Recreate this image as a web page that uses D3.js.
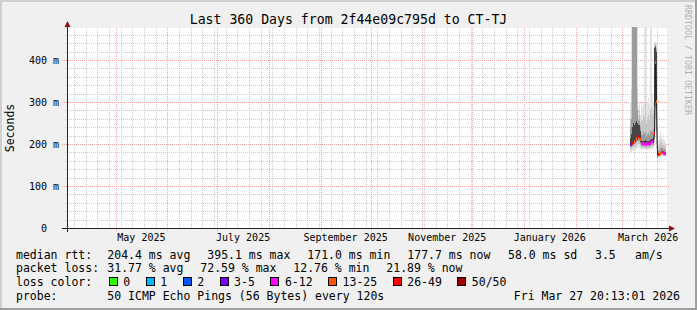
<!DOCTYPE html>
<html>
<head>
<script src="https://cdnjs.cloudflare.com/ajax/libs/d3/7.8.5/d3.min.js"></script>
<style>
body { margin: 0; background: #f0f0f0; }
svg text { font-family: "DejaVu Sans Mono", monospace; fill: #000; }
</style>
</head>
<body>
<script>
// time range of the graph
var startTime = new Date(2025, 3, 1, 20, 13, 1);
var endTime = new Date(2026, 2, 27, 20, 13, 1);
// rrd samples: first sample time and step (minutes)
var firstSample = new Date(2026, 2, 5, 15, 25, 0);
var stepMinutes = 864;

// median rtt (ms) and packet loss (%) per sample
var medianMs = [198, 199, 202, 204, 207, 208, 212, 214, 217, 219, 210,
  202, 201, 202, 200, 202, 200, 201, 202, 200, 202, 204, 205, 206,
  225, 395, 302,
  171, 174, 176, 177, 181, 180, 178.6, 177.4, 177.7];
var lossPct = [4, 30, 35, 40, 20, 35, 20, 30, 40, 30, 20,
  20, 10, 10, 10, 10, 10, 10, 10, 10, 10, 20, 10, 35,
  35, 20, 20,
  20, 35, 10, 20, 20, 35, 10, 10, 10];

// smoke: spread of the 50 pings per sample (ms)
var pingMin = [182, 181, 183, 185, 186, 186, 189, 190, 192, 190, 187,
  185, 186, 187, 186, 187, 185, 186, 187, 186, 188, 189, 188, 190,
  200, 230, 190,
  166, 168, 169, 170, 171, 171, 170, 170, 170];
var ping10 = [188, 187, 190, 192, 194, 194, 197, 199, 201, 200, 195,
  190, 190, 191, 190, 191, 189, 190, 191, 190, 192, 193, 193, 195,
  205, 260, 200,
  168, 170, 171, 172, 173, 173, 172, 172, 172];
var ping25 = [192, 192, 195, 197, 200, 201, 204, 206, 208, 208, 201,
  195, 195, 196, 195, 196, 194, 195, 196, 195, 197, 198, 198, 200,
  215, 285, 230,
  169, 171, 173, 174, 176, 176, 175, 174, 174];
var ping40 = [196, 197, 200, 202, 205, 206, 210, 212, 215, 216, 207,
  199, 199, 200, 198, 200, 198, 199, 200, 198, 200, 202, 203, 204,
  290, 300, 290,
  170, 173, 175, 176, 179, 178, 177, 176, 176];
var ping60 = [215, 225, 240, 250, 245, 250, 255, 250, 245, 245, 230,
  208, 207, 208, 206, 209, 206, 207, 208, 206, 209, 211, 212, 214,
  428, 430, 420,
  174, 177, 179, 180, 184, 183, 181, 180, 180];
var ping75 = [240, 260, 500, 500, 500, 500, 500, 280, 255, 260, 240,
  225, 222, 230, 225, 228, 220, 224, 226, 222, 230, 232, 228, 235,
  432, 435, 425,
  180, 183, 186, 190, 192, 190, 188, 187, 186];
var ping90 = [260, 330, 600, 600, 600, 600, 600, 330, 270, 280, 250,
  260, 255, 270, 265, 300, 250, 262, 270, 260, 280, 285, 270, 280,
  435, 440, 430,
  190, 195, 200, 210, 205, 203, 198, 197, 195];
var pingMax = [300, 600, 600, 600, 600, 600, 600, 600, 290, 300, 270,
  300, 290, 300, 600, 600, 280, 300, 310, 295, 600, 600, 320, 300,
  440, 445, 440,
  200, 210, 215, 230, 220, 215, 212, 210, 205];

// loss colour legend
var lossLimits = [0, 1, 2, 5, 12, 25, 49, 100];
var lossLabels = ["0", "1", "2", "3-5", "6-12", "13-25", "26-49", "50/50"];
var lossColors = ["#26ff00", "#00b8ff", "#0059ff", "#7e00ff", "#ff00ff", "#ff5500", "#ff0000", "#a10000"];

var yTicks = [0, 100, 200, 300, 400];
var yMax = 476.2;

var W = 697, H = 310;
var plotL = 67, plotR = 667, plotT = 28, plotB = 228;

var svg = d3.select("body").append("svg")
  .attr("width", W).attr("height", H);

// background + shading border
svg.append("rect").attr("width", W).attr("height", H).attr("fill", "#f0f0f0");
svg.append("path").attr("d", "M0,0H" + W + "V2H2V" + H + "H0Z").attr("fill", "#cfcfcf");
svg.append("path").attr("d", "M" + W + ",0V" + H + "H0V" + (H - 2) + "H" + (W - 2) + "V0Z").attr("fill", "#9e9e9e");

var x = d3.scaleTime().domain([startTime, endTime]).range([plotL, plotR]);
var y = d3.scaleLinear().domain([0, yMax]).range([plotB, plotT]);

// canvas
svg.append("rect").attr("x", plotL).attr("y", plotT)
  .attr("width", plotR - plotL).attr("height", plotB - plotT).attr("fill", "#fff");

// grid
var grid = svg.append("g").attr("shape-rendering", "crispEdges");
var weeks = d3.timeSunday.range(startTime, endTime);
var months = d3.timeMonth.range(startTime, endTime);
var minorY = d3.range(20, yMax, 20).filter(function (v) { return v % 100 !== 0; });
var majorY = yTicks.filter(function (v) { return v > 0; });

grid.selectAll(".vminor").data(weeks).enter().append("line")
  .attr("x1", function (d) { return Math.round(x(d)) + 0.5; })
  .attr("x2", function (d) { return Math.round(x(d)) + 0.5; })
  .attr("y1", plotT).attr("y2", plotB + 2)
  .attr("stroke", "#cccccc").attr("stroke-dasharray", "1,1");
grid.selectAll(".hminor").data(minorY).enter().append("line")
  .attr("x1", plotL - 2).attr("x2", plotR + 2)
  .attr("y1", function (d) { return Math.round(y(d)) + 0.5; })
  .attr("y2", function (d) { return Math.round(y(d)) + 0.5; })
  .attr("stroke", "#cccccc").attr("stroke-dasharray", "1,1");
grid.selectAll(".vmajor").data(months).enter().append("line")
  .attr("x1", function (d) { return Math.round(x(d)) + 0.5; })
  .attr("x2", function (d) { return Math.round(x(d)) + 0.5; })
  .attr("y1", plotT).attr("y2", plotB + 3)
  .attr("stroke", "#f0a0a0").attr("stroke-dasharray", "1,1");
grid.selectAll(".hmajor").data(majorY).enter().append("line")
  .attr("x1", plotL - 5).attr("x2", plotR + 3)
  .attr("y1", function (d) { return Math.round(y(d)) + 0.5; })
  .attr("y2", function (d) { return Math.round(y(d)) + 0.5; })
  .attr("stroke", "#f0a0a0").attr("stroke-dasharray", "1,1");

// smoke + median
var sampleTimes = medianMs.map(function (d, i) {
  return d3.timeMinute.offset(firstSample, i * stepMinutes);
});
var rows = medianMs.map(function (m, i) {
  return {
    t0: sampleTimes[i], t1: d3.timeMinute.offset(sampleTimes[i], stepMinutes),
    median: m, loss: lossPct[i],
    bands: [[pingMin[i], pingMax[i]], [ping10[i], ping90[i]], [ping25[i], ping75[i]], [ping40[i], ping60[i]]]
  };
});
var bandColors = ["#e2e2e2", "#c6c6c6", "#9c9c9c", "#454545"];

svg.append("clipPath").attr("id", "plot").append("rect")
  .attr("x", plotL).attr("y", plotT - 1).attr("width", plotR - plotL).attr("height", plotB - plotT + 1);
var dataG = svg.append("g").attr("clip-path", "url(#plot)");

bandColors.forEach(function (c, b) {
  dataG.append("g").attr("shape-rendering", "crispEdges").selectAll("rect").data(rows).enter().append("rect")
    .attr("x", function (d) { return x(d.t0); })
    .attr("width", function (d) { return x(d.t1) - x(d.t0); })
    .attr("y", function (d) { return y(d.bands[b][1]); })
    .attr("height", function (d) { return y(d.bands[b][0]) - y(d.bands[b][1]); })
    .attr("fill", c);
});

var line = d3.line()
  .x(function (d) { return (x(d.t0) + x(d.t1)) / 2; })
  .y(function (d) { return y(d.median); });
dataG.append("path").datum(rows).attr("d", line)
  .attr("fill", "none").attr("stroke", "#202020").attr("stroke-width", 1);

function lossColor(l) {
  for (var k = 0; k < lossLimits.length; k++) {
    if (l <= lossLimits[k]) return lossColors[k];
  }
  return lossColors[lossColors.length - 1];
}
dataG.append("g").attr("shape-rendering", "crispEdges").selectAll("rect").data(rows).enter().append("rect")
  .attr("x", function (d) { return x(d.t0); })
  .attr("width", function (d) { return x(d.t1) - x(d.t0); })
  .attr("y", function (d) { return y(d.median) - 1.5; })
  .attr("height", 3)
  .attr("fill", function (d) { return lossColor(d.loss); });

// axes
var axisG = svg.append("g").attr("shape-rendering", "crispEdges");
axisG.append("line").attr("x1", plotL - 5).attr("x2", plotR + 3).attr("y1", plotB + 0.5).attr("y2", plotB + 0.5)
  .attr("stroke", "#202020");
axisG.append("line").attr("x1", plotL + 0.5).attr("x2", plotL + 0.5).attr("y1", plotB + 4).attr("y2", plotT - 2)
  .attr("stroke", "#202020");
svg.append("path").attr("d", "M" + (plotR + 2) + "," + (plotB - 2.5) + "L" + (plotR + 8) + "," + (plotB + 0.5) + "L" + (plotR + 2) + "," + (plotB + 3.5) + "Z")
  .attr("fill", "#8b1010");
svg.append("path").attr("d", "M" + (plotL - 2.5) + "," + (plotT - 1) + "L" + (plotL + 0.5) + "," + (plotT - 7) + "L" + (plotL + 3.5) + "," + (plotT - 1) + "Z")
  .attr("fill", "#8b1010");

// y tick labels
svg.selectAll(".ylab").data(yTicks).enter().append("text")
  .attr("x", function (d) { return d === 0 ? 59 - 12 : 59; })
  .attr("y", function (d) { return y(d); })
  .attr("dy", "0.35em")
  .attr("text-anchor", "end")
  .style("font-size", "10px")
  .text(function (d) { return d === 0 ? "0" : d + " m"; });

// x labels: every 2nd month centered on the month
var labelMonths = d3.timeMonth.every(2).range(startTime, endTime);
svg.selectAll(".xlab").data(labelMonths).enter().append("text")
  .attr("x", function (d) { return (x(d) + x(d3.timeMonth.offset(d, 1))) / 2; })
  .attr("y", 241)
  .attr("text-anchor", "middle")
  .style("font-size", "10px")
  .text(d3.timeFormat("%B %Y"));

// title
svg.append("text").attr("x", W / 2).attr("y", 24).attr("text-anchor", "middle")
  .style("font-size", "13.2px").text("Last 360 Days from 2f44e09c795d to CT-TJ");

// vertical label
svg.append("text").attr("transform", "translate(14,128) rotate(-90)")
  .attr("text-anchor", "middle").style("font-size", "11.5px").text("Seconds");

// watermark
svg.append("text").attr("transform", "translate(685,5) rotate(90)")
  .style("font-size", "8.3px").style("fill", "#b0b0b0").text("RRDTOOL / TOBI OETIKER");

// legend
var legFont = "11.5px";
function legText(tx, ty, s) {
  return svg.append("text").attr("x", tx).attr("y", ty).style("font-size", legFont)
    .style("white-space", "pre").text(s);
}
var rttStats = [["204.4 ms avg", 107.3], ["395.1 ms max", 207.3], ["171.0 ms min", 307.3],
  ["177.7 ms now", 407.3], ["58.0 ms sd", 508], ["3.5", 595], ["am/s", 635]];
var lossStats = [["31.77 % avg", 107.3], ["72.59 % max", 200.3], ["12.76 % min", 293.3], ["21.89 % now", 386.3]];

legText(16, 258.5, "median rtt:");
rttStats.forEach(function (s) { legText(s[1], 258.5, s[0]); });
legText(16, 272.2, "packet loss:");
lossStats.forEach(function (s) { legText(s[1], 272.2, s[0]); });
legText(16, 285.9, "loss color:");
var cursor = 108.7;
lossLabels.forEach(function (lab, k) {
  svg.append("rect").attr("x", cursor + 0.5).attr("y", 277.5).attr("width", 8).attr("height", 8)
    .attr("fill", lossColors[k]).attr("stroke", "#000").attr("shape-rendering", "crispEdges");
  var t = legText(cursor + 14.6, 285.9, lab);
  cursor = cursor + 14.6 + t.node().getComputedTextLength() + 15.4;
});
legText(16, 299.6, "probe:");
legText(107.3, 299.6, "50 ICMP Echo Pings (56 Bytes) every 120s");
legText(680, 299.6, "Fri Mar 27 20:13:01 2026").attr("text-anchor", "end");
</script>
</body>
</html>
